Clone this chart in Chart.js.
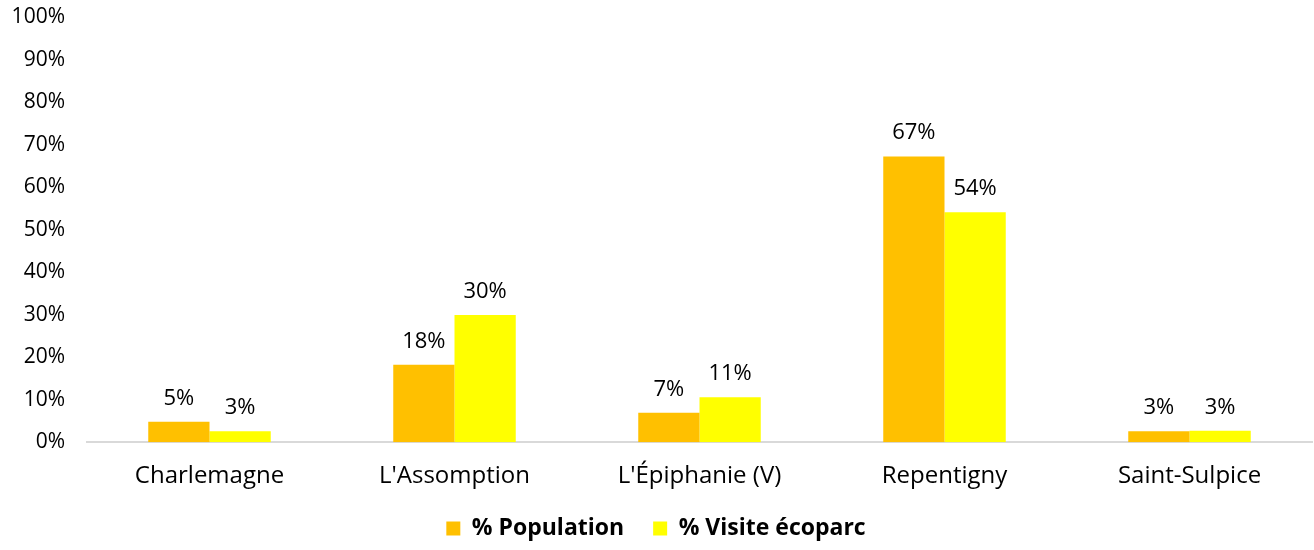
<!DOCTYPE html>
<html>
<head>
<meta charset="utf-8">
<script src="https://cdn.jsdelivr.net/npm/chart.js@4"></script>
<style>
  html, body { margin: 0; padding: 0; background: #fff; }
  #wrap { width: 1314px; height: 550px; }
</style>
</head>
<body>
<div id="wrap"><canvas id="chart" width="1314" height="550"></canvas></div>
<script>
// Données
const municipalites = ['Charlemagne', "L'Assomption", "L'Épiphanie (V)", 'Repentigny', 'Saint-Sulpice'];
const pctPopulation = [4.8, 18.2, 6.9, 67.2, 2.6];
const pctVisite = [2.6, 29.9, 10.6, 54.1, 2.7];
const yTicks = [0, 10, 20, 30, 40, 50, 60, 70, 80, 90, 100];

const FONT = "'Open Sans', 'Noto Sans', sans-serif";

// Plugin maison pour les étiquettes au-dessus des barres
const valueLabels = {
  id: 'valueLabels',
  afterDatasetsDraw(chart) {
    const ctx = chart.ctx;
    ctx.save();
    ctx.font = '22px ' + FONT;
    ctx.fillStyle = '#000';
    ctx.textAlign = 'center';
    ctx.textBaseline = 'alphabetic';
    chart.data.datasets.forEach((ds, i) => {
      chart.getDatasetMeta(i).data.forEach((bar, j) => {
        ctx.fillText(Math.round(ds.data[j]) + '%', bar.x, bar.y - 17);
      });
    });
    ctx.restore();
  }
};

new Chart(document.getElementById('chart'), {
  type: 'bar',
  data: {
    labels: municipalites,
    datasets: [
      { label: '% Population', data: pctPopulation, backgroundColor: '#FFC000' },
      { label: '% Visite écoparc', data: pctVisite, backgroundColor: '#FFFF00' }
    ]
  },
  options: {
    responsive: false,
    animation: false,
    layout: { padding: { top: 0, right: 2, left: 0, bottom: 0 } },
    datasets: { bar: { categoryPercentage: 0.5, barPercentage: 1.0 } },
    plugins: {
      legend: {
        position: 'bottom',
        labels: {
          font: { family: FONT, size: 23, weight: 'bold' },
          color: '#000',
          boxWidth: 14, boxHeight: 14, padding: 6,
          // un peu plus d'espace entre les deux entrées
          generateLabels: chart => Chart.defaults.plugins.legend.labels.generateLabels(chart)
            .map((it, i) => (i === 0 ? { ...it, text: it.text + '\u2003' } : it))
        }
      },
      tooltip: { enabled: false }
    },
    scales: {
      x: {
        grid: { display: false, drawTicks: false },
        border: { color: '#d9d9d9', width: 2 },
        ticks: { font: { family: FONT, size: 24 }, color: '#000', padding: 20 }
      },
      y: {
        min: 0, max: 100,
        afterBuildTicks: axis => { axis.ticks = yTicks.map(v => ({ value: v })); },
        afterFit: s => { s.width = 87; s.paddingTop = 17; s.paddingBottom = 0; },
        grid: { display: false, drawTicks: false },
        border: { display: false },
        ticks: {
          font: { family: FONT, size: 21 }, color: '#000', padding: 22,
          callback: v => v + '%'
        }
      }
    }
  },
  plugins: [valueLabels]
});
</script>
</body>
</html>
